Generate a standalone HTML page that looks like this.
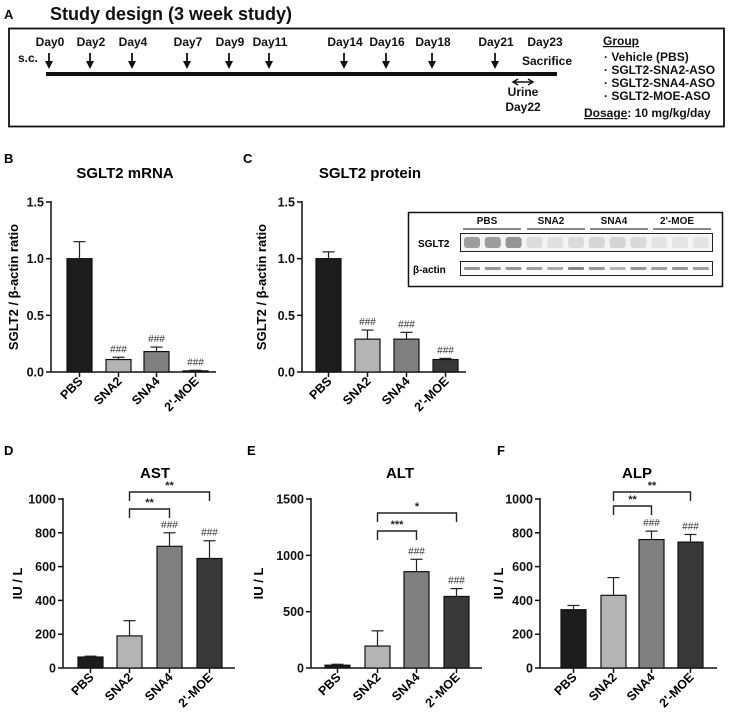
<!DOCTYPE html>
<html><head><meta charset="utf-8"><style>
html,body{margin:0;padding:0;background:#fff;overflow:hidden}
svg{display:block;font-family:"Liberation Sans",Arial,sans-serif}
</style></head><body>
<svg id="fig" width="729" height="722" viewBox="0 0 729 722" xmlns="http://www.w3.org/2000/svg">
<g id="panelA" font-weight="bold" fill="#111">
 <text x="4" y="19" font-size="13">A</text>
 <text x="50" y="20" font-size="18">Study design (3 week study)</text>
 <rect x="9" y="28.5" width="715" height="98" fill="none" stroke="#111" stroke-width="1.8"/>
 <text x="18" y="62" font-size="12">s.c.</text>
 <rect x="46" y="72" width="511" height="4" fill="#111"/>
 <g id="days"></g>
 <text x="545" y="46" font-size="12" text-anchor="middle">Day23</text>
 <text x="547" y="65" font-size="12" text-anchor="middle">Sacrifice</text>
 <g stroke="#111" stroke-width="1.5">
  <line x1="514" y1="82" x2="532" y2="82"/>
  <polyline points="518,79 513,82 518,85" fill="none"/>
  <polyline points="528,79 533,82 528,85" fill="none"/>
 </g>
 <text x="523" y="96" font-size="12" text-anchor="middle">Urine</text>
 <text x="523" y="111" font-size="12" text-anchor="middle">Day22</text>
 <text x="603" y="45" font-size="12" text-decoration="underline">Group</text>
 <text x="604" y="61" font-size="12">·  Vehicle (PBS)</text>
 <text x="604" y="74" font-size="12">·  SGLT2-SNA2-ASO</text>
 <text x="604" y="87" font-size="12">·  SGLT2-SNA4-ASO</text>
 <text x="604" y="100" font-size="12">·  SGLT2-MOE-ASO</text>
 <text x="584" y="117" font-size="12"><tspan text-decoration="underline">Dosage</tspan>: 10 mg/kg/day</text>
</g>
<g id="charts"></g>
<g id="blot">
 <rect x="408.5" y="212.5" width="314" height="74" fill="#fff" stroke="#111" stroke-width="1.5"/>
 <g font-size="10" font-weight="bold" text-anchor="middle" fill="#111">
  <text x="487" y="224">PBS</text>
  <text x="551" y="224">SNA2</text>
  <text x="614" y="224">SNA4</text>
  <text x="677" y="224">2'-MOE</text>
 </g>
 <g stroke="#111" stroke-width="1">
  <line x1="463" y1="229" x2="521" y2="229"/><line x1="527" y1="229" x2="585" y2="229"/>
  <line x1="590" y1="229" x2="648" y2="229"/><line x1="653" y1="229" x2="711" y2="229"/>
 </g>
 <text x="418" y="247" font-size="10" font-weight="bold">SGLT2</text>
 <text x="413" y="273" font-size="10" font-weight="bold">β-actin</text>
 <rect x="460.5" y="233.5" width="252" height="18" fill="#f4f4f4" stroke="#222"/>
 <rect x="460.5" y="261.5" width="252" height="14" fill="#fafafa" stroke="#222"/>
 <g id="bands"></g>
</g>
</svg>
<script>
const NS="http://www.w3.org/2000/svg";
function mk(tag,attrs,parent){const e=document.createElementNS(NS,tag);for(const k in attrs)e.setAttribute(k,attrs[k]);parent.appendChild(e);return e;}
const dayLabels=["Day0","Day2","Day4","Day7","Day9","Day11","Day14","Day16","Day18","Day21"];
const dayX=[49,90,132,187,229,269,344,386,432,495];
const dg=document.getElementById('days');
dayLabels.forEach((d,i)=>{
 const t=mk('text',{x:dayX[i]+1,y:46,'font-size':12,'text-anchor':'middle'},dg);t.textContent=d;
 
 
 const a=mk('g',{},dg);
 
 
 mk('line',{x1:dayX[i],y1:53,x2:dayX[i],y2:64,stroke:'#111','stroke-width':1.8},a);
 mk('polygon',{points:`${dayX[i]-4},61 ${dayX[i]+4},61 ${dayX[i]},69`,fill:'#111'},a);
});
const sglt2Intensity=[0.55,0.55,0.6,0.15,0.12,0.15,0.18,0.2,0.17,0.1,0.1,0.1];
const actinIntensity=[0.5,0.5,0.5,0.45,0.4,0.6,0.5,0.35,0.5,0.45,0.5,0.45];
const bg=document.getElementById('bands');
sglt2Intensity.forEach((v,i)=>{
 const x=464+i*20.8;
 const b=mk('rect',{x:x,y:237,width:16,height:11,rx:3,fill:'#555','fill-opacity':v},bg);
 
 
 const c=mk('rect',{x:x,y:267,width:16,height:3,rx:1,fill:'#333','fill-opacity':actinIntensity[i]},bg);
 
 
});

const categories=["PBS","SNA2","SNA4","2'-MOE"];
const barColors=["#1c1c1c","#b4b4b4","#808080","#383838"];
const mrnaValues=[1.0,0.11,0.18,0.01];
const mrnaErrors=[0.15,0.02,0.04,0.005];
const mrnaSig=["","###","###","###"];
const proteinValues=[1.0,0.29,0.29,0.11];
const proteinErrors=[0.06,0.08,0.06,0.01];
const proteinSig=["","###","###","###"];
const ratioTicks=[0,0.5,1.0,1.5];
const ratioTickLabels=["0.0","0.5","1.0","1.5"];
const astValues=[65,190,720,648];
const astErrors=[5,90,80,105];
const astSig=["","","###","###"];
const altValues=[25,195,855,635];
const altErrors=[8,135,110,70];
const altSig=["","","###","###"];
const alpValues=[345,430,760,745];
const alpErrors=[25,105,50,45];
const alpSig=["","","###","###"];
const ticks1000=[0,200,400,600,800,1000];
const ticks1500=[0,500,1000,1500];
const astBrackets=[[1,2,"**"],[1,3,"**"]];
const altBrackets=[[1,2,"***"],[1,3,"*"]];
const alpBrackets=[[1,2,"**"],[1,3,"**"]];

const charts=[
 {id:'mrna',letter:'B',lx:4,ly:163,title:'SGLT2 mRNA',tx:125,ty:178,ax:51,axEnd:216,y0:372,y1:202,max:1.5,ticks:ratioTicks,tl:ratioTickLabels,bx:[67,106,144,183],bw:25,vals:mrnaValues,errs:mrnaErrors,sig:mrnaSig,ytitle:'SGLT2 / β-actin ratio',ytx:18,brackets:[]},
 {id:'protein',letter:'C',lx:243,ly:163,title:'SGLT2 protein',tx:370,ty:178,ax:302,axEnd:466,y0:372,y1:202,max:1.5,ticks:ratioTicks,tl:ratioTickLabels,bx:[316,355,394,433],bw:25,vals:proteinValues,errs:proteinErrors,sig:proteinSig,ytitle:'SGLT2 / β-actin ratio',ytx:266,brackets:[]},
 {id:'ast',letter:'D',lx:4,ly:455,title:'AST',tx:155,ty:478,ax:63,axEnd:235,y0:668,y1:499,max:1000,ticks:ticks1000,tl:ticks1000.map(String),bx:[78,117,157,197],bw:25,vals:astValues,errs:astErrors,sig:astSig,ytitle:'IU / L',ytx:22,brackets:astBrackets,by:[509,492]},
 {id:'alt',letter:'E',lx:247,ly:455,title:'ALT',tx:400,ty:478,ax:311,axEnd:482,y0:668,y1:499,max:1500,ticks:ticks1500,tl:ticks1500.map(String),bx:[325,365,404,444],bw:25,vals:altValues,errs:altErrors,sig:altSig,ytitle:'IU / L',ytx:263,brackets:altBrackets,by:[531,513]},
 {id:'alp',letter:'F',lx:497,ly:455,title:'ALP',tx:637,ty:478,ax:540,axEnd:717,y0:668,y1:499,max:1000,ticks:ticks1000,tl:ticks1000.map(String),bx:[561,601,639,678],bw:25,vals:alpValues,errs:alpErrors,sig:alpSig,ytitle:'IU / L',ytx:503,brackets:alpBrackets,by:[506,492]}
];
const root=document.getElementById('charts');
charts.forEach(c=>{
 const g=mk('g',{},root);
 
 
 const Y=v=>c.y0-(v/c.max)*(c.y0-c.y1);
 let t=mk('text',{x:c.lx,y:c.ly,'font-size':13,'font-weight':'bold'},g);t.textContent=c.letter;
 
 
 t=mk('text',{x:c.tx,y:c.ty,'font-size':15,'font-weight':'bold','text-anchor':'middle'},g);t.textContent=c.title;
 
 
 const ym=(c.y0+c.y1)/2;
 t=mk('text',{x:c.ytx,y:ym,'font-size':13,'font-weight':'bold','text-anchor':'middle',transform:`rotate(-90 ${c.ytx} ${ym})`},g);t.textContent=c.ytitle;
 
 
 const ax=mk('g',{stroke:'#111','stroke-width':1.5},g);
 
 
 mk('line',{x1:c.ax,y1:c.y1-1,x2:c.ax,y2:c.y0},ax);
 mk('line',{x1:c.ax,y1:c.y0,x2:c.axEnd,y2:c.y0},ax);
 c.ticks.forEach((v,i)=>{
  mk('line',{x1:c.ax-5,y1:Y(v),x2:c.ax,y2:Y(v)},ax);
  const tt=mk('text',{x:c.ax-7,y:Y(v)+4.5,'font-size':12.5,'font-weight':'bold','text-anchor':'end',stroke:'none',fill:'#111'},g);
  tt.textContent=c.tl[i];
  
  
 });
 c.vals.forEach((v,i)=>{
  const x=c.bx[i],cx=x+c.bw/2;
  const b=mk('rect',{x:x,y:Y(v),width:c.bw,height:c.y0-Y(v),fill:barColors[i],stroke:'#111','stroke-width':1.2},g);
  
  
  const e=mk('g',{stroke:'#222','stroke-width':1.2},g);
  
  
  const et=Y(v+c.errs[i]);
  mk('line',{x1:cx,y1:Y(v),x2:cx,y2:et},e);
  mk('line',{x1:cx-6,y1:et,x2:cx+6,y2:et},e);
  if(c.sig[i]){
   const s=mk('text',{x:cx,y:et-5,'font-size':10,'text-anchor':'middle',fill:'#333'},g);s.textContent=c.sig[i];
   
   
  }
  mk('line',{x1:cx,y1:c.y0,x2:cx,y2:c.y0+5,stroke:'#111','stroke-width':1.5},g);
  const lx=cx+4,ly=c.y0+10;
  const l=mk('text',{x:lx,y:ly,'font-size':12.5,'font-weight':'bold','text-anchor':'end',transform:`rotate(-45 ${lx} ${ly})`},g);
  l.textContent=categories[i];
  
  
 });
 c.brackets.forEach((br,k)=>{
  const x1=c.bx[br[0]]+c.bw/2,x2=c.bx[br[1]]+c.bw/2,yy=c.by[k];
  const bg2=mk('g',{},g);
  
  
  mk('polyline',{points:`${x1},${yy+9} ${x1},${yy} ${x2},${yy} ${x2},${yy+9}`,fill:'none',stroke:'#222','stroke-width':1.4},bg2);
  const s=mk('text',{x:(x1+x2)/2,y:yy-3,'font-size':11,'font-weight':'bold','text-anchor':'middle',fill:'#222'},bg2);
  s.textContent=br[2];
 });
});
</script>
</body></html>
